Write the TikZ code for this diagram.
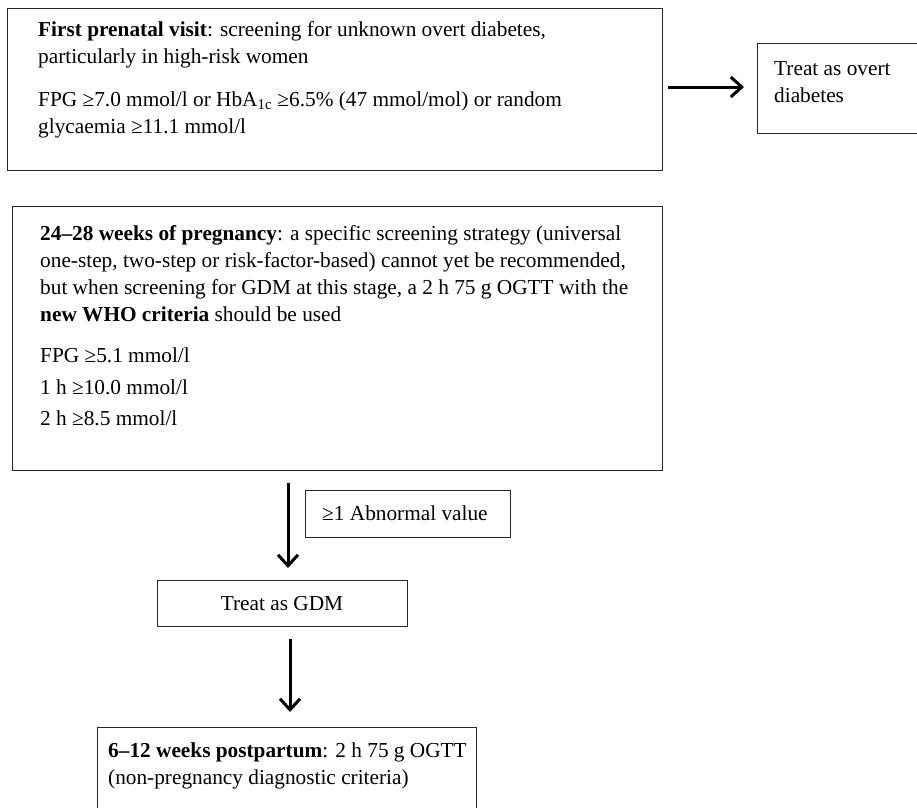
\documentclass[tikz,border=0pt]{standalone}
\usepackage{fontspec}
\setmainfont{Liberation Serif}
\usetikzlibrary{arrows.meta}
\begin{document}
\begin{tikzpicture}[x=1pt,y=-1pt,
  box/.style={draw=black!85,line width=1.4pt,rectangle,anchor=north west,inner sep=0pt},
  txt/.style={anchor=base west,inner sep=0pt,font=\fontsize{21.3}{27}\selectfont},
  arr/.style={line width=3pt,-{Straight Barb[length=11pt,width=20pt,line width=3pt]}}]
\useasboundingbox (0,0) rectangle (917,807);
% boxes
\node[box,minimum width=655pt,minimum height=162pt] (b1) at (7,8) {};
\node[box,minimum width=170pt,minimum height=90pt] (ov) at (757,43) {};
\node[box,minimum width=650pt,minimum height=264pt] (b2) at (12,206) {};
\node[box,minimum width=205pt,minimum height=47pt] (ab) at (305,490) {};
\node[box,minimum width=250pt,minimum height=46pt] (gdm) at (157,580) {};
\node[box,minimum width=379pt,minimum height=90pt] (pp) at (97,727) {};
% texts
\node[txt] (t1) at (38,36) {\textbf{First prenatal visit}: screening for unknown overt diabetes,};
\node[txt] (t2) at (38,63) {particularly in high-risk women};
\node[txt] (t3) at (38,106) {FPG ≥7.0 mmol/l or HbA\textsubscript{1c} ≥6.5\% (47 mmol/mol) or random};
\node[txt] (t4) at (38,133) {glycaemia ≥11.1 mmol/l};
\node[txt] (o1) at (774,75) {Treat as overt};
\node[txt] (o2) at (774,102) {diabetes};
\node[txt] (s1) at (40,240) {\textbf{24–28 weeks of pregnancy}: a specific screening strategy (universal};
\node[txt] (s2) at (40,267) {one-step, two-step or risk-factor-based) cannot yet be recommended,};
\node[txt] (s3) at (40,294) {but when screening for GDM at this stage, a 2 h 75 g OGTT with the};
\node[txt] (s4) at (40,321) {\textbf{new WHO criteria} should be used};
\node[txt] (s5) at (40,362) {FPG ≥5.1 mmol/l};
\node[txt] (s6) at (40,394) {1 h ≥10.0 mmol/l};
\node[txt] (s7) at (40,425) {2 h ≥8.5 mmol/l};
\node[txt] (a1) at (322,520) {≥1 Abnormal value};
\node[txt,anchor=base] (g1) at (282,610) {Treat as GDM};
\node[txt] (p1) at (108,757) {\textbf{6–12 weeks postpartum}: 2 h 75 g OGTT};
\node[txt] (p2) at (108,784) {(non-pregnancy diagnostic criteria)};
% connectors
\coordinate (xa) at (288,0);
\coordinate (xb) at (290,0);
\draw[arr,shorten <=5pt,shorten >=13pt] (b1.east |- 0,87) -- (ov.west |- 0,87);
\draw[arr,shorten <=12pt,shorten >=12pt] (b2.south -| xa) -- (gdm.north -| xa);
\draw[arr,shorten <=12pt,shorten >=15pt] (gdm.south -| xb) -- (pp.north -| xb);
\end{tikzpicture}
\end{document}
